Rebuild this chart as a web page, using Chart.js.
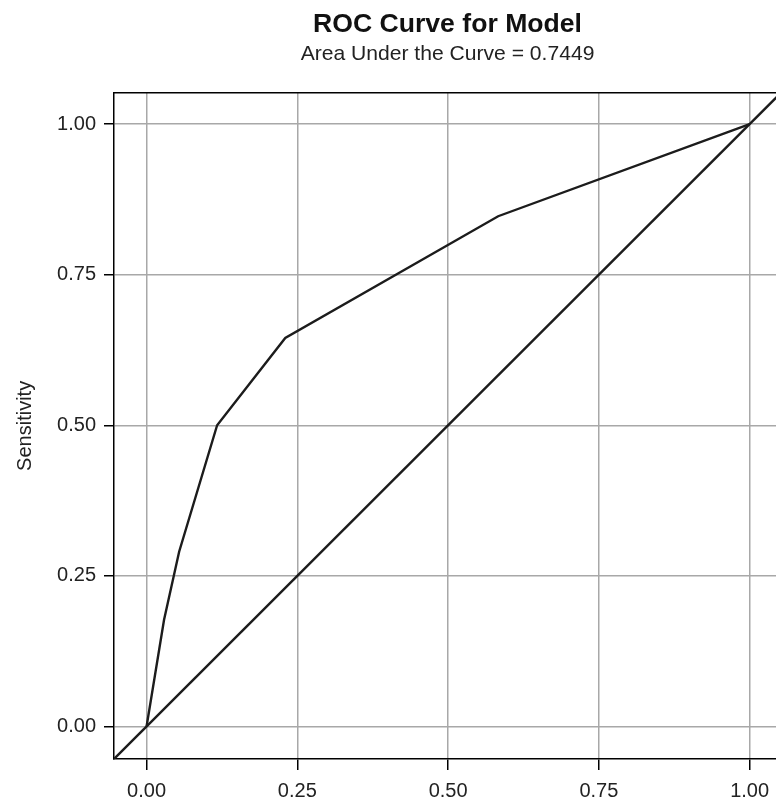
<!DOCTYPE html>
<html>
<head>
<meta charset="utf-8">
<script src="https://cdn.jsdelivr.net/npm/chart.js@4/dist/chart.umd.min.js"></script>
<style>
  html, body { margin: 0; padding: 0; background: #fff; overflow: hidden; }
  #wrap { position: absolute; left: 0; top: 0; width: 790px; height: 797px; }
</style>
</head>
<body>
<div id="wrap"><canvas id="roc" width="790" height="797"></canvas></div>
<script>
// ROC points (1 - specificity, sensitivity)
const falsePosRate = [0, 0.029, 0.054, 0.117, 0.23, 0.583, 1];
const sensitivity  = [0, 0.177, 0.29, 0.5, 0.645, 0.847, 1];
const tickValues   = [0, 0.25, 0.5, 0.75, 1];
const axisMin = -0.054;
const axisMax = 1.052;
const aucText = 'Area Under the Curve = 0.7449';

const FONT = '"Liberation Sans", Arial, Helvetica, sans-serif';
const ink = '#1c1c1c';
const gridGrey = '#a8a8a8';

const rocPoints = falsePosRate.map((x, i) => ({ x: x, y: sensitivity[i] }));
const diagonal = [{ x: axisMin, y: axisMin }, { x: axisMax, y: axisMax }];

// top/right border of the plot box
const boxBorder = {
  id: 'boxBorder',
  afterDraw(chart) {
    const a = chart.chartArea, ctx = chart.ctx;
    ctx.save();
    ctx.strokeStyle = '#000';
    ctx.lineWidth = 1.5;
    ctx.beginPath();
    ctx.moveTo(a.left, a.top);
    ctx.lineTo(a.right, a.top);
    ctx.lineTo(a.right, a.bottom);
    ctx.stroke();
    ctx.restore();
  }
};

function fixedTicks(scale) {
  scale.ticks = tickValues.map(v => ({ value: v }));
}

const ctx = document.getElementById('roc').getContext('2d');
const chart = new Chart(ctx, {
  type: 'scatter',
  data: {
    datasets: [
      {
        label: 'ROC',
        data: rocPoints,
        showLine: true,
        borderColor: ink,
        borderWidth: 2.4,
        pointRadius: 0,
        tension: 0
      },
      {
        label: 'Chance',
        data: diagonal,
        showLine: true,
        borderColor: ink,
        borderWidth: 2.4,
        pointRadius: 0,
        tension: 0
      }
    ]
  },
  options: {
    responsive: false,
    animation: false,
    layout: { padding: { left: 0, right: 9, top: 0, bottom: 0 } },
    plugins: {
      legend: { display: false },
      tooltip: { enabled: false },
      title: {
        display: true,
        fullSize: false,
        text: 'ROC Curve for Model',
        color: '#111',
        font: { family: FONT, size: 26.6, weight: 'bold' },
        padding: { top: 8.3, bottom: 1.2 }
      },
      subtitle: {
        display: true,
        fullSize: false,
        text: aucText,
        color: '#222',
        font: { family: FONT, size: 21.1 },
        padding: { top: 0, bottom: 26 }
      }
    },
    scales: {
      x: {
        type: 'linear',
        min: axisMin,
        max: axisMax,
        afterBuildTicks: fixedTicks,
        afterFit(scale) { scale.height = 38; },
        grid: {
          color: gridGrey,
          lineWidth: 1.5,
          tickColor: '#000',
          tickWidth: 1.5,
          tickLength: 11
        },
        border: { display: true, color: '#000', width: 1.5 },
        ticks: {
          color: '#222',
          font: { family: FONT, size: 20 },
          padding: 9,
          maxRotation: 0,
          callback: v => v.toFixed(2)
        }
      },
      y: {
        type: 'linear',
        min: axisMin,
        max: axisMax,
        afterBuildTicks: fixedTicks,
        afterFit(scale) { scale.width = 114; },
        grid: {
          color: gridGrey,
          lineWidth: 1.5,
          tickColor: '#000',
          tickWidth: 1.5,
          tickLength: 10
        },
        border: { display: true, color: '#000', width: 1.5 },
        title: {
          display: true,
          text: 'Sensitivity',
          color: '#222',
          font: { family: FONT, size: 20 },
          padding: { top: 13, bottom: 0 }
        },
        ticks: {
          color: '#222',
          font: { family: FONT, size: 20 },
          padding: 8,
          callback: v => v.toFixed(2)
        }
      }
    }
  },
  plugins: [boxBorder]
});
</script>
</body>
</html>
